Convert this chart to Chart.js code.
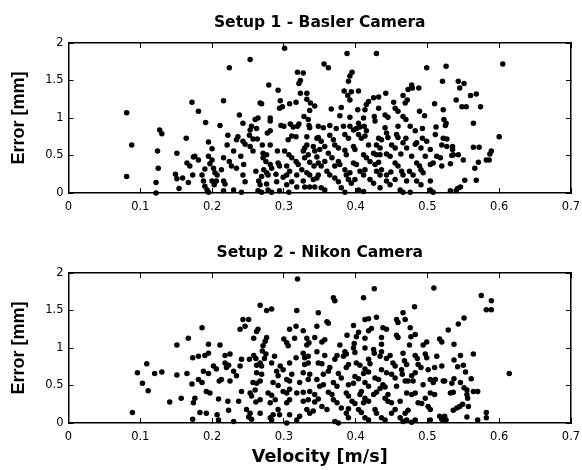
<!DOCTYPE html>
<html><head><meta charset="utf-8">
<script src="https://cdn.jsdelivr.net/npm/chart.js@4.4.1/dist/chart.umd.min.js"></script>
<style>
html,body{margin:0;padding:0;background:#fff;width:582px;height:470px;overflow:hidden}
canvas{position:absolute;left:0}
</style></head><body>
<canvas id="c1" width="582" height="230" style="top:0"></canvas>
<canvas id="c2" width="582" height="240" style="top:230px"></canvas>
<script>
// ---- data ----
const titles = ['Setup 1 - Basler Camera', 'Setup 2 - Nikon Camera'];
const xAxisTitle = 'Velocity [m/s]';
const yAxisTitle = 'Error [mm]';
const xTicks = [0, 0.1, 0.2, 0.3, 0.4, 0.5, 0.6, 0.7];
const yTicks = [0, 0.5, 1, 1.5, 2];

const setup1Velocity = [
0.081,0.088,0.081,0.127,0.130,0.124,0.125,0.122,0.122,0.172,
0.164,0.151,0.174,0.165,0.169,0.149,0.151,0.159,0.167,0.154,
0.173,0.301,0.253,0.224,0.319,0.327,0.323,0.321,0.279,0.292,
0.323,0.332,0.216,0.295,0.332,0.267,0.269,0.308,0.317,0.298,
0.294,0.337,0.343,0.181,0.336,0.238,0.264,0.260,0.281,0.281,
0.328,0.334,0.191,0.243,0.211,0.255,0.253,0.296,0.300,0.309,
0.313,0.321,0.319,0.336,0.335,0.262,0.281,0.277,0.222,0.236,
0.234,0.252,0.257,0.263,0.311,0.317,0.332,0.346,0.195,0.243,
0.246,0.306,0.221,0.270,0.281,0.253,0.257,0.332,0.329,0.341,
0.200,0.230,0.271,0.276,0.291,0.301,0.307,0.327,0.334,0.343,
0.176,0.181,0.195,0.200,0.216,0.240,0.271,0.275,0.311,0.317,
0.329,0.336,0.346,0.197,0.202,0.224,0.227,0.244,0.281,0.283,
0.292,0.294,0.304,0.320,0.342,0.190,0.213,0.234,0.261,0.272,
0.276,0.308,0.325,0.332,0.186,0.207,0.204,0.243,0.269,0.278,
0.289,0.299,0.304,0.318,0.336,0.348,0.200,0.203,0.206,0.216,
0.218,0.188,0.190,0.246,0.265,0.267,0.276,0.290,0.304,0.311,
0.327,0.341,0.193,0.195,0.216,0.230,0.241,0.264,0.269,0.278,
0.283,0.294,0.307,0.318,0.329,0.336,0.343,
0.388,0.429,0.356,0.362,0.395,0.392,0.390,0.499,0.521,0.478,
0.473,0.479,0.488,0.384,0.394,0.404,0.389,0.392,0.442,0.466,
0.472,0.469,0.425,0.432,0.418,0.415,0.453,0.455,0.459,0.432,
0.510,0.366,0.380,0.403,0.413,0.489,0.522,0.378,0.392,0.411,
0.426,0.427,0.441,0.445,0.466,0.470,0.496,0.348,0.355,0.364,
0.373,0.383,0.392,0.397,0.401,0.404,0.406,0.412,0.415,0.441,
0.443,0.459,0.476,0.483,0.493,0.512,0.348,0.352,0.364,0.369,
0.385,0.390,0.404,0.408,0.413,0.432,0.436,0.445,0.457,0.459,
0.470,0.483,0.493,0.499,0.511,0.522,0.357,0.350,0.371,0.376,
0.397,0.399,0.418,0.429,0.434,0.450,0.455,0.466,0.471,0.485,
0.491,0.504,0.520,0.362,0.367,0.385,0.387,0.411,0.415,0.425,
0.429,0.434,0.443,0.448,0.463,0.478,0.497,0.513,0.518,0.348,
0.352,0.357,0.376,0.378,0.371,0.397,0.401,0.420,0.427,0.432,
0.455,0.459,0.485,0.489,0.504,0.508,0.520,0.360,0.364,0.385,
0.387,0.392,0.406,0.411,0.413,0.429,0.434,0.436,0.443,0.449,
0.464,0.466,0.475,0.480,0.491,0.494,0.346,0.371,0.376,0.390,
0.394,0.399,0.420,0.425,0.443,0.448,0.455,0.471,0.485,0.491,
0.504,0.352,0.357,0.380,0.385,0.404,0.411,0.434,0.462,0.466,
0.476,0.504,0.508,
0.605,0.526,0.543,0.551,0.545,0.568,0.560,0.540,0.548,0.554,
0.574,0.523,0.526,0.525,0.564,0.527,0.527,0.535,0.535,0.564,
0.572,0.600,0.589,0.587,0.536,0.534,0.543,0.550,0.582,0.586,
0.532,0.571,0.566,0.552,0.568,0.532,0.540,0.542,0.546
];
const setup1Error = [
1.07,0.64,0.22,0.84,0.79,0.56,0.33,0.14,0.00,1.21,
0.73,0.53,0.48,0.40,0.36,0.25,0.19,0.20,0.14,0.06,
0.24,1.93,1.78,1.67,1.61,1.60,1.50,1.46,1.44,1.37,
1.33,1.33,1.23,1.23,1.25,1.20,1.19,1.19,1.21,1.15,
1.13,1.20,1.16,1.09,1.10,1.04,1.00,0.98,1.00,0.96,
1.02,0.98,0.94,0.93,0.90,0.89,0.84,0.90,0.89,0.92,
0.88,0.92,0.89,0.87,0.90,0.86,0.83,0.80,0.77,0.75,
0.71,0.77,0.72,0.72,0.76,0.75,0.75,0.73,0.68,0.69,
0.65,0.71,0.64,0.64,0.64,0.62,0.56,0.64,0.60,0.62,
0.59,0.56,0.53,0.51,0.56,0.56,0.51,0.56,0.51,0.56,
0.49,0.44,0.49,0.44,0.47,0.49,0.47,0.42,0.47,0.42,
0.47,0.41,0.48,0.39,0.33,0.42,0.36,0.38,0.38,0.33,
0.40,0.36,0.36,0.38,0.36,0.32,0.31,0.33,0.29,0.31,
0.27,0.29,0.31,0.27,0.24,0.24,0.27,0.24,0.22,0.24,
0.25,0.21,0.24,0.24,0.24,0.24,0.16,0.11,0.16,0.16,
0.12,0.16,0.09,0.15,0.16,0.11,0.12,0.15,0.11,0.15,
0.16,0.18,0.04,0.01,0.03,0.04,0.01,0.03,0.01,0.04,
0.01,0.03,0.01,0.08,0.08,0.08,0.08,
1.86,1.86,1.72,1.67,1.61,1.56,1.49,1.67,1.49,1.44,
1.38,1.40,1.40,1.36,1.35,1.36,1.30,1.24,1.33,1.30,
1.24,1.20,1.27,1.28,1.22,1.18,1.21,1.13,1.09,1.13,
1.19,1.12,1.14,1.11,1.11,1.09,1.11,1.03,1.01,1.00,
1.02,0.96,1.04,1.01,1.02,0.98,1.03,0.89,0.87,0.90,
0.86,0.89,0.89,0.84,0.86,0.93,0.88,0.89,0.83,0.87,
0.80,0.89,0.89,0.83,0.86,0.88,0.74,0.69,0.77,0.71,
0.78,0.73,0.78,0.73,0.76,0.73,0.71,0.74,0.78,0.74,
0.73,0.65,0.73,0.69,0.78,0.73,0.62,0.58,0.64,0.60,
0.62,0.58,0.64,0.64,0.60,0.64,0.60,0.67,0.60,0.67,
0.60,0.58,0.64,0.53,0.47,0.57,0.51,0.51,0.47,0.53,
0.51,0.51,0.52,0.49,0.52,0.49,0.49,0.49,0.47,0.40,
0.36,0.42,0.42,0.38,0.36,0.40,0.38,0.42,0.38,0.41,
0.40,0.36,0.40,0.36,0.38,0.40,0.36,0.29,0.24,0.31,
0.24,0.27,0.29,0.24,0.31,0.29,0.24,0.31,0.24,0.28,
0.29,0.24,0.29,0.24,0.31,0.27,0.20,0.20,0.15,0.18,
0.13,0.18,0.18,0.13,0.16,0.11,0.18,0.16,0.16,0.11,
0.16,0.07,0.04,0.07,0.01,0.04,0.02,0.07,0.04,0.01,
0.01,0.04,0.01,
1.72,1.69,1.49,1.46,1.40,1.32,1.30,1.24,1.15,1.15,
1.15,0.98,0.93,0.90,0.93,0.72,0.62,0.62,0.58,0.61,
0.61,0.75,0.56,0.52,0.51,0.50,0.51,0.44,0.44,0.44,
0.39,0.41,0.33,0.17,0.17,0.03,0.03,0.06,0.08
];

const setup2Velocity = [
0.089,0.096,0.103,0.109,0.111,0.120,0.130,0.141,0.151,0.151,
0.157,0.167,0.165,0.173,0.172,0.174,0.173,
0.319,0.267,0.276,0.283,0.318,0.348,0.243,0.251,0.239,0.246,
0.262,0.264,0.186,0.308,0.317,0.327,0.346,0.258,0.276,0.274,
0.300,0.304,0.315,0.332,0.335,0.343,0.195,0.211,0.271,0.270,
0.306,0.332,0.181,0.190,0.195,0.218,0.225,0.241,0.258,0.261,
0.275,0.273,0.287,0.317,0.327,0.329,0.334,0.346,0.218,0.223,
0.220,0.252,0.267,0.262,0.269,0.283,0.295,0.299,0.308,0.329,
0.334,0.348,0.202,0.206,0.239,0.188,0.195,0.230,0.234,0.262,
0.269,0.290,0.292,0.311,0.327,0.336,0.213,0.210,0.225,0.181,
0.186,0.257,0.262,0.267,0.285,0.292,0.304,0.308,0.322,0.334,
0.346,0.197,0.192,0.241,0.253,0.260,0.255,0.278,0.283,0.299,
0.304,0.308,0.318,0.327,0.336,0.343,0.176,0.209,0.222,0.237,
0.261,0.267,0.281,0.288,0.304,0.308,0.327,0.334,0.343,0.348,
0.183,0.192,0.207,0.223,0.248,0.253,0.251,0.255,0.267,0.281,
0.283,0.285,0.292,0.294,0.308,0.318,0.322,0.332,0.336,0.341,
0.304,0.230,0.209,
0.426,0.509,0.411,0.369,0.371,0.482,0.466,0.413,0.418,0.429,
0.360,0.362,0.457,0.459,0.469,0.397,0.476,0.438,0.443,0.418,
0.422,0.388,0.404,0.401,0.457,0.459,0.483,0.477,0.436,0.413,
0.353,0.357,0.378,0.398,0.397,0.436,0.475,0.499,0.494,0.517,
0.520,0.413,0.425,0.426,0.385,0.387,0.383,0.399,0.436,0.434,
0.448,0.443,0.466,0.357,0.353,0.374,0.371,0.483,0.486,0.497,
0.499,0.513,0.401,0.406,0.418,0.420,0.452,0.455,0.468,0.471,
0.487,0.491,0.390,0.387,0.364,0.362,0.413,0.418,0.411,0.436,
0.443,0.464,0.465,0.501,0.510,0.520,0.355,0.376,0.380,0.399,
0.404,0.427,0.432,0.450,0.455,0.478,0.483,0.504,0.469,0.473,
0.480,0.350,0.355,0.369,0.374,0.390,0.397,0.413,0.418,0.438,
0.441,0.457,0.494,0.508,0.511,0.522,0.362,0.367,0.387,0.390,
0.408,0.406,0.425,0.429,0.434,0.445,0.471,0.478,0.483,0.504,
0.510,0.369,0.374,0.395,0.399,0.413,0.418,0.411,0.441,0.445,
0.450,0.462,0.487,0.492,0.497,0.353,0.360,0.380,0.390,0.387,
0.404,0.408,0.427,0.429,0.450,0.455,0.469,0.473,0.501,0.504,
0.371,0.376,0.390,0.413,0.418,0.436,0.441,0.462,0.466,0.471,
0.478,0.483,0.504,0.517,0.520,
0.575,0.589,0.582,0.589,0.551,0.543,0.529,0.537,0.564,0.546,
0.537,0.550,0.542,0.614,0.524,0.537,0.534,0.553,0.561,0.546,
0.551,0.555,0.536,0.532,0.555,0.556,0.564,0.570,0.536,0.541,
0.545,0.549,0.557,0.522,0.526,0.524,0.555,0.570,0.582,0.582
];
const setup2Error = [
0.14,0.67,0.53,0.79,0.43,0.66,0.68,0.28,1.04,0.64,
0.33,1.13,0.66,0.87,0.52,0.27,0.05,
1.92,1.57,1.50,1.52,1.50,1.47,1.38,1.38,1.25,1.29,
1.22,1.25,1.27,1.25,1.29,1.23,1.29,1.13,1.14,1.09,
1.12,1.07,1.13,1.13,1.07,1.14,1.05,1.04,1.03,0.96,
1.03,1.04,0.89,0.90,0.93,0.90,0.92,0.85,0.90,0.86,
0.92,0.86,0.89,0.87,0.93,0.87,0.89,0.95,0.80,0.77,
0.74,0.85,0.80,0.77,0.76,0.80,0.76,0.71,0.80,0.78,
0.80,0.80,0.76,0.72,0.76,0.69,0.66,0.69,0.63,0.67,
0.65,0.69,0.63,0.65,0.67,0.65,0.58,0.56,0.56,0.58,
0.54,0.54,0.53,0.56,0.54,0.50,0.58,0.56,0.54,0.58,
0.58,0.40,0.42,0.42,0.40,0.44,0.36,0.40,0.37,0.42,
0.40,0.45,0.40,0.41,0.42,0.38,0.33,0.32,0.29,0.29,
0.28,0.31,0.27,0.31,0.27,0.31,0.29,0.31,0.28,0.32,
0.14,0.13,0.11,0.17,0.18,0.13,0.08,0.05,0.13,0.07,
0.04,0.11,0.18,0.11,0.11,0.04,0.09,0.18,0.13,0.16,
0.00,0.02,0.04,
1.79,1.80,1.67,1.67,1.63,1.55,1.47,1.38,1.39,1.41,
1.35,1.33,1.38,1.34,1.38,1.30,1.27,1.27,1.25,1.23,
1.26,1.17,1.21,1.15,1.17,1.14,1.18,1.15,1.14,1.13,
1.08,1.11,1.04,1.06,1.00,1.05,1.04,1.08,1.04,1.12,
1.08,1.00,0.98,0.93,0.95,0.92,0.89,0.94,0.95,0.89,
0.90,0.86,0.93,0.90,0.79,0.90,0.85,0.90,0.86,0.92,
0.87,0.89,0.80,0.77,0.85,0.79,0.80,0.76,0.83,0.78,
0.78,0.74,0.78,0.74,0.74,0.69,0.72,0.68,0.66,0.71,
0.67,0.71,0.65,0.71,0.74,0.76,0.65,0.66,0.60,0.62,
0.59,0.60,0.58,0.65,0.60,0.63,0.67,0.58,0.56,0.56,
0.56,0.49,0.51,0.54,0.49,0.51,0.53,0.54,0.49,0.51,
0.48,0.49,0.51,0.54,0.58,0.56,0.41,0.38,0.40,0.36,
0.42,0.38,0.38,0.41,0.46,0.38,0.40,0.38,0.40,0.40,
0.38,0.31,0.27,0.29,0.26,0.33,0.29,0.27,0.33,0.29,
0.27,0.29,0.27,0.26,0.33,0.22,0.18,0.20,0.19,0.13,
0.18,0.14,0.18,0.13,0.13,0.18,0.13,0.17,0.22,0.18,
0.02,0.00,0.07,0.07,0.04,0.07,0.04,0.07,0.02,0.04,
0.01,0.04,0.04,0.09,0.05,
1.70,1.63,1.51,1.51,1.40,1.32,1.24,1.05,0.92,0.90,
0.84,0.77,0.75,0.66,0.56,0.59,0.53,0.68,0.59,0.54,
0.47,0.44,0.41,0.40,0.38,0.33,0.42,0.42,0.17,0.20,
0.22,0.25,0.22,0.05,0.04,0.09,0.08,0.04,0.14,0.07
];

// ---- rendering ----
const TICK_FONT = 'DejaVu Sans';
const TITLE_FONT = 'DejaVu Sans';
const YTITLE_FONT = '"Liberation Sans", Arial, sans-serif';
const TICK_IN = -5;   // inward tick marks (MATLAB box style)

function fmt(v) { return String(+Number(v).toFixed(2)); }
function axisGrid() {
  return {display: true, drawOnChartArea: false, drawTicks: true, tickLength: TICK_IN,
    color: '#000', lineWidth: 1, tickWidth: 1};
}
function axisBorder() { return {display: true, color: '#000', width: 1.5}; }

// touches the DOM after every draw so the finished canvas gets repainted
const repaintPlugin = {
  id: 'repaintMark',
  afterDraw(chart) { chart.canvas.setAttribute('data-drawn', String(Date.now())); }
};

function makeChart(id, vel, err, title, showXTitle, canvasH) {
  const n = Math.min(vel.length, err.length);
  const pts = [];
  for (let i = 0; i < n; i++) pts.push({x: vel[i], y: err[i]});
  const areaBottom = 193;
  const setX = s => { s.ticks = xTicks.map(v => ({value: v})); };
  const setY = s => { s.ticks = yTicks.map(v => ({value: v})); };
  return new Chart(document.getElementById(id), {
    type: 'scatter',
    data: {datasets: [{data: pts, backgroundColor: '#000', borderColor: '#000',
      borderWidth: 0, pointRadius: 2.75, pointHoverRadius: 2.75, clip: false,
      xAxisID: 'x', yAxisID: 'y'}]},
    options: {
      responsive: false, animation: false, events: [],
      layout: {padding: {left: 0, right: 11, top: 0, bottom: 0}},
      plugins: {
        legend: {display: false}, tooltip: {enabled: false},
        title: {display: true, fullSize: false, text: title, color: '#000',
          font: {family: TITLE_FONT, size: 15.5, weight: 'bold', lineHeight: 1.2},
          padding: {top: 13.2, bottom: 11.2}}
      },
      scales: {
        x: {
          type: 'linear', position: 'bottom', min: 0, max: 0.7,
          afterBuildTicks: setX,
          afterFit: s => { s.height = canvasH - areaBottom; s.paddingLeft = 0; s.paddingRight = 0; },
          ticks: {callback: fmt, color: '#000', font: {family: TICK_FONT, size: 11.5},
            padding: 7 - TICK_IN, maxRotation: 0, autoSkip: false},
          grid: axisGrid(), border: axisBorder(),
          title: {display: showXTitle, text: xAxisTitle, color: '#000',
            font: {family: TITLE_FONT, size: 17.5, weight: 'bold', lineHeight: 1.2},
            padding: {top: 0, bottom: 2.5}}
        },
        xTop: {
          type: 'linear', position: 'top', min: 0, max: 0.7,
          afterBuildTicks: setX,
          afterFit: s => { s.height = 0; s.paddingLeft = 0; s.paddingRight = 0; },
          ticks: {display: false},
          grid: axisGrid(), border: axisBorder()
        },
        y: {
          type: 'linear', position: 'left', min: 0, max: 2,
          afterBuildTicks: setY,
          afterFit: s => { s.width = 68.5; s.paddingTop = 0; s.paddingBottom = 0; },
          ticks: {callback: fmt, color: '#000', font: {family: TICK_FONT, size: 11.5}, padding: 5 - TICK_IN},
          grid: axisGrid(), border: axisBorder(),
          title: {display: true, text: yAxisTitle, color: '#000',
            font: {family: YTITLE_FONT, size: 18, weight: 'bold', lineHeight: 1.2},
            padding: {top: 8.2, bottom: 0}}
        },
        yRight: {
          type: 'linear', position: 'right', min: 0, max: 2,
          afterBuildTicks: setY,
          afterFit: s => { s.width = 0; s.paddingTop = 0; s.paddingBottom = 0; },
          ticks: {display: false},
          grid: axisGrid(), border: axisBorder()
        }
      }
    },
    plugins: [repaintPlugin]
  });
}

makeChart('c1', setup1Velocity, setup1Error, titles[0], false, 230);
makeChart('c2', setup2Velocity, setup2Error, titles[1], true, 240);
</script>
</body></html>
